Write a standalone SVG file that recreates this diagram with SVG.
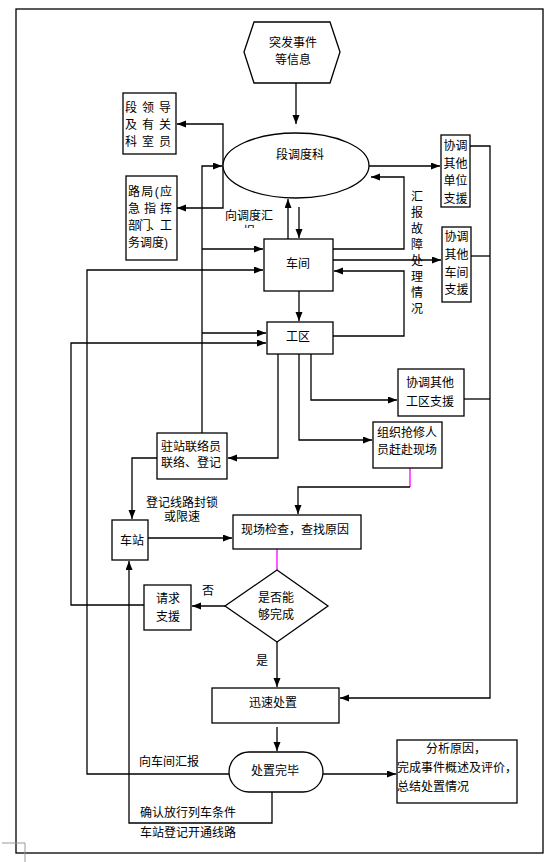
<svg xmlns="http://www.w3.org/2000/svg" width="560" height="862" viewBox="0 0 560 862">
<defs>
<marker id="ah" markerUnits="userSpaceOnUse" markerWidth="10" markerHeight="8" refX="9" refY="3.5" orient="auto">
<path d="M0,0 L9,3.5 L0,7 z" fill="#000"/>
</marker>
<clipPath id="clipBao"><rect x="200" y="222" width="100" height="6"/></clipPath>
<style>
.n{fill:#fff;stroke:#000;stroke-width:1.3}
.c{fill:none;stroke:#000;stroke-width:1.3}
.a{marker-end:url(#ah)}
.m{fill:none;stroke:#ff00ff;stroke-width:1.3}
text{font-family:"Liberation Sans","Noto Sans CJK SC",sans-serif;font-size:12px;fill:#000;dominant-baseline:central}
.mid{text-anchor:middle}
</style>
</defs>
<rect width="560" height="862" fill="#fff"/>
<rect x="16" y="9" width="527" height="844" fill="none" stroke="#000" stroke-width="1.3"/>
<path d="M2,843 H25 V862" fill="none" stroke="#999" stroke-width="1"/>

<g id="connectors">
<path class="c a" d="M296,83 V124"/>
<path class="c a" d="M223,166 V124 H177"/>
<path class="c a" d="M223,166 V208 H177"/>
<path class="c a" d="M202,433 V166 H222"/>
<path class="c a" d="M202,249 H263"/>
<path class="c a" d="M202,333 H266"/>
<path class="c a" d="M288,239 V199"/>
<path class="c a" d="M299,207 V238"/>
<path class="c a" d="M299,291 V321"/>
<path class="c a" d="M369,166 H440"/>
<path class="c a" d="M333,249 H404 V177 H371"/>
<path class="c a" d="M333,260 H441"/>
<path class="c a" d="M333,336 H404 V271 H334"/>
<path class="c a" d="M470,146 H490 V698 H340"/>
<path class="c" d="M471,256 H490"/>
<path class="c" d="M464,399 H490"/>
<path class="c a" d="M311,354 V400 H397"/>
<path class="c a" d="M299,354 V440 H372"/>
<path class="m" d="M410,468 V487"/>
<path class="c a" d="M410,487 H298 V514"/>
<path class="c a" d="M278,354 V458 H228"/>
<path class="c a" d="M157,458 H132 V519"/>
<path class="c a" d="M148,538 H232"/>
<path class="m" d="M277,549 V570"/>
<path class="c a" d="M225,606 H192"/>
<path class="c a" d="M144,605 H71 V343 H266"/>
<path class="c a" d="M277,642 V687"/>
<path class="c a" d="M277,727 V751"/>
<path class="c a" d="M229,774 H87 V270 H263"/>
<path class="c a" d="M323,774 H396"/>
<path class="c a" d="M272,792 V823 H129 V561"/>
</g>

<g id="labels">
<text class="mid" x="249" y="216">向调度汇</text>
<text class="mid" x="249" y="232" clip-path="url(#clipBao)">报</text>
<g class="mid">
<text class="mid" x="417" y="197">汇</text>
<text class="mid" x="417" y="213">报</text>
<text class="mid" x="417" y="229">故</text>
<text class="mid" x="417" y="245">障</text>
<text class="mid" x="417" y="261">处</text>
<text class="mid" x="417" y="277">理</text>
<text class="mid" x="417" y="293">情</text>
<text class="mid" x="417" y="309">况</text>
</g>
<text class="mid" x="182" y="503">登记线路封锁</text>
<text class="mid" x="182" y="517">或限速</text>
<text class="mid" x="208" y="591">否</text>
<text class="mid" x="262" y="661">是</text>
<text class="mid" x="169" y="762">向车间汇报</text>
<text x="140" y="813">确认放行列车条件</text>
<text x="140" y="833">车站登记开通线路</text>
</g>

<g id="n_event">
<polygon class="n" points="244,52 254,22 330,22 340,52 330,83 254,83"/>
<text class="mid" x="293" y="43">突发事件</text>
<text class="mid" x="293" y="60">等信息</text>
</g>

<g id="n_dispatch">
<ellipse class="n" cx="296" cy="165.5" rx="73" ry="32.5"/>
<text class="mid" x="300" y="155">段调度科</text>
</g>

<g id="n_leaders">
<rect class="n" x="123" y="93" width="53" height="61"/>
<text x="125" y="108" textLength="46" lengthAdjust="spacing">段领导</text>
<text x="125" y="125" textLength="46" lengthAdjust="spacing">及有关</text>
<text x="125" y="142" textLength="46" lengthAdjust="spacing">科室员</text>
</g>

<g id="n_bureau">
<rect class="n" x="126" y="176" width="51" height="84"/>
<text x="128" y="192" textLength="44" lengthAdjust="spacing">路局(应</text>
<text x="128" y="209" textLength="44" lengthAdjust="spacing">急指挥</text>
<text x="128" y="226" textLength="44" lengthAdjust="spacing">部门、工</text>
<text x="128" y="243">务调度)</text>
</g>

<g id="n_unit">
<rect class="n" x="441" y="135" width="29" height="72"/>
<text class="mid" x="455.5" y="146">协调</text>
<text class="mid" x="455.5" y="164">其他</text>
<text class="mid" x="455.5" y="181">单位</text>
<text class="mid" x="455.5" y="199">支援</text>
</g>

<g id="n_workshop">
<rect class="n" x="264" y="239" width="69" height="52"/>
<text class="mid" x="298" y="264">车间</text>
</g>

<g id="n_otherws">
<rect class="n" x="442" y="227" width="29" height="75"/>
<text class="mid" x="456.5" y="237">协调</text>
<text class="mid" x="456.5" y="255">其他</text>
<text class="mid" x="456.5" y="273">车间</text>
<text class="mid" x="456.5" y="290">支援</text>
</g>

<g id="n_area">
<rect class="n" x="267" y="322" width="66" height="32"/>
<text class="mid" x="298" y="337">工区</text>
</g>

<g id="n_otherarea">
<rect class="n" x="398" y="369" width="66" height="47"/>
<text class="mid" x="430" y="383">协调其他</text>
<text class="mid" x="430" y="402">工区支援</text>
</g>

<g id="n_repair">
<rect class="n" x="373" y="422" width="69" height="46"/>
<text class="mid" x="407" y="433">组织抢修人</text>
<text class="mid" x="407" y="450">员赶赴现场</text>
</g>

<g id="n_liaison">
<rect class="n" x="157" y="433" width="70" height="46"/>
<text x="161" y="447">驻站联络员</text>
<text x="161" y="463">联络、登记</text>
</g>

<g id="n_station">
<rect class="n" x="112" y="520" width="36" height="40"/>
<text class="mid" x="132" y="541">车站</text>
</g>

<g id="n_check">
<rect class="n" x="233" y="515" width="128" height="34"/>
<text class="mid" x="295" y="530">现场检查，查找原因</text>
</g>

<g id="n_decision">
<polygon class="n" points="277,570 328,606 277,642 225,606"/>
<text class="mid" x="276" y="598">是否能</text>
<text class="mid" x="276" y="615">够完成</text>
</g>

<g id="n_request">
<rect class="n" x="144" y="585" width="47" height="45"/>
<text class="mid" x="168" y="599">请求</text>
<text class="mid" x="168" y="617">支援</text>
</g>

<g id="n_handle">
<rect class="n" x="212" y="688" width="127" height="35"/>
<text class="mid" x="273" y="703">迅速处置</text>
</g>

<g id="n_done">
<rect class="n" x="229" y="752" width="94" height="40" rx="20" ry="20"/>
<text class="mid" x="275" y="771">处置完毕</text>
</g>

<g id="n_summary">
<rect class="n" x="397" y="740" width="120" height="63"/>
<text class="mid" x="456" y="749">分析原因，</text>
<text x="397" y="768">完成事件概述及评价，</text>
<text x="397" y="787">总结处置情况</text>
</g>
</svg>
